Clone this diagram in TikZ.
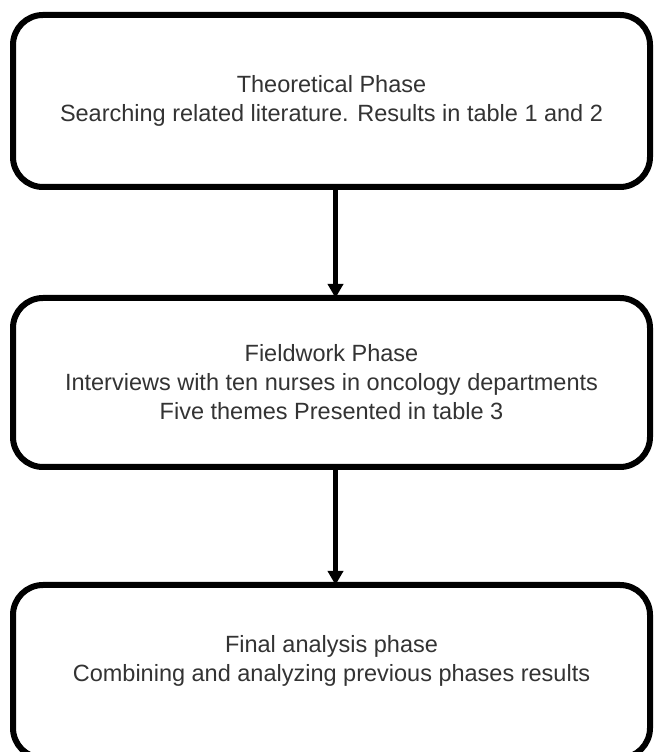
\documentclass[tikz,border=0pt]{standalone}
\usepackage{fontspec}
\setmainfont{Liberation Sans}
\usetikzlibrary{arrows.meta}
\pgfdeclarelayer{edgelayer}
\pgfdeclarelayer{nodelayer}
\pgfsetlayers{edgelayer,nodelayer,main}
\definecolor{textgray}{gray}{0.2}
\tikzstyle{phasebox}=[rectangle, rounded corners=30pt, draw=black, line width=6pt, fill=white, minimum width=637pt, text=textgray, align=center, font=\fontsize{23.5pt}{29pt}\selectfont]
\tikzstyle{phasetext}=[text=textgray, align=center, font=\fontsize{23.5pt}{29pt}\selectfont]
\tikzstyle{edge}=[draw=black, line width=5pt, -{Triangle[length=14pt,width=15pt]}]

\begin{document}
\begin{tikzpicture}[x=1pt, y=1pt]
	\useasboundingbox (0,0) rectangle (657,752);
	\begin{pgfonlayer}{nodelayer}

	%phases
		\node [style=phasebox, minimum height=172pt] (theory) at (331.5,651) {Theoretical Phase\\Searching related literature. Results in table 1 and 2};
		\node [style=phasebox, minimum height=169pt] (field) at (331.5,369.5) {Fieldwork Phase\\Interviews with ten nurses in oncology departments\\Five themes Presented in table 3};
		\node [style=phasebox, minimum height=173pt] (final) at (331.5,80.5) {};
		\node [style=phasetext] (finaltext) at (331.5,91) {Final analysis phase\\Combining and analyzing previous phases results};

	\end{pgfonlayer}
	\begin{pgfonlayer}{main}

		%arrows
		\draw [style=edge] ([xshift=4pt]theory.south) to ([xshift=4pt,yshift=-3pt]field.north);
		\draw [style=edge] ([xshift=4pt]field.south) to ([xshift=4pt,yshift=-3pt]final.north);

	\end{pgfonlayer}
\end{tikzpicture}
\end{document}
